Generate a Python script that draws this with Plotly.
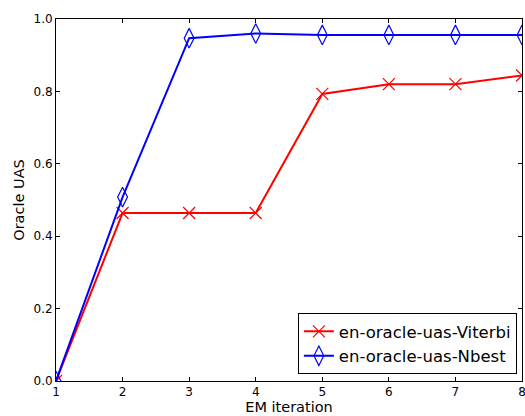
import plotly.graph_objects as go

iterations = [1, 2, 3, 4, 5, 6, 7, 8]
viterbi = [0.0, 0.464, 0.464, 0.464, 0.793, 0.820, 0.820, 0.844]
nbest = [0.0, 0.508, 0.947, 0.960, 0.956, 0.956, 0.956, 0.956]
x_ticks = [1, 2, 3, 4, 5, 6, 7, 8]
y_ticks = [0.0, 0.2, 0.4, 0.6, 0.8, 1.0]
y_tick_labels = ["0.0", "0.2", "0.4", "0.6", "0.8", "1.0"]

fig = go.Figure()
fig.add_trace(go.Scatter(
    x=iterations, y=viterbi, mode="lines+markers", name="en-oracle-uas-Viterbi",
    line=dict(color="#ff0000", width=2),
    marker=dict(symbol="x-thin", size=12, line=dict(color="#ff0000", width=1.2), color="#ff0000"),
))
fig.add_trace(go.Scatter(
    x=iterations, y=nbest, mode="lines+markers", name="en-oracle-uas-Nbest",
    line=dict(color="#0000ff", width=2),
    marker=dict(symbol="diamond-tall-open", size=14, line=dict(color="#0000ff", width=1.2), color="#0000ff"),
))

axis_common = dict(
    showgrid=False, zeroline=False, showline=True, linecolor="black", linewidth=1,
    mirror="ticks", ticks="inside", ticklen=4, tickcolor="black",
    tickfont=dict(family="DejaVu Sans", size=12, color="black"),
    ticklabeloverflow="allow", automargin=False,
)
fig.update_xaxes(range=[1, 8], tickvals=x_ticks, ticktext=[str(v) for v in x_ticks],
                 title=dict(text="EM iteration", font=dict(family="DejaVu Sans", size=14.5, color="black"), standoff=3),
                 **axis_common)
fig.update_yaxes(range=[0, 1], tickvals=y_ticks, ticktext=y_tick_labels,
                 title=dict(text="Oracle UAS", font=dict(family="DejaVu Sans", size=14.5, color="black"), standoff=5),
                 **axis_common)

fig.update_layout(
    width=525, height=416,
    margin=dict(l=56, r=3, t=19, b=35),
    plot_bgcolor="white", paper_bgcolor="white",
    font=dict(family="DejaVu Sans", color="black"),
    legend=dict(x=0.989, y=0.019, xanchor="right", yanchor="bottom",
                bordercolor="black", borderwidth=1, bgcolor="white", tracegroupgap=0,
                font=dict(family="DejaVu Sans", size=16.5, color="black")),
)
fig.write_html("out.html", config={"displayModeBar": False},
               post_script="document.body.style.margin='0';document.body.style.overflow='hidden';")
